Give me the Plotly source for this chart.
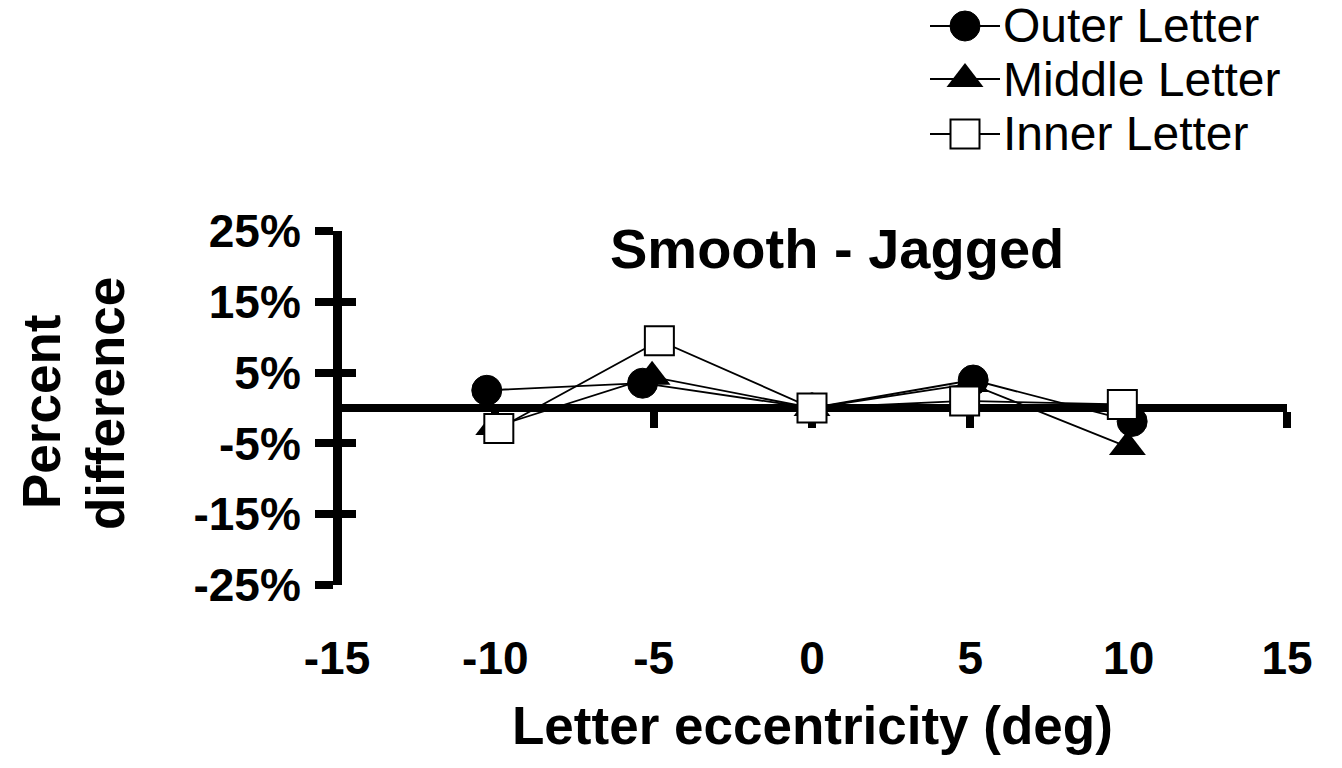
import plotly.graph_objects as go

# Letter eccentricity (deg) for each letter position, slightly offset per series
ecc_outer = [-10.27, -5.35, 0.0, 5.09, 10.11]
ecc_middle = [-10.05, -5.05, 0.0, 5.0, 9.96]
ecc_inner = [-9.89, -4.82, 0.0, 4.82, 9.8]

# Percent difference (Smooth - Jagged)
outer_pct = [2.5, 3.5, 0.0, 3.95, -1.9]
middle_pct = [-2.7, 4.4, 0.0, 3.4, -5.5]
inner_pct = [-2.9, 9.5, 0.0, 1.0, 0.5]

series_names = ["Outer Letter", "Middle Letter", "Inner Letter"]
x_ticks = [-15, -10, -5, 0, 5, 10, 15]
x_tick_text = ["-15", "-10", "-5", "0", "5", "10", "15"]
y_ticks = [-25, -15, -5, 5, 15, 25]
y_tick_text = ["-25%", "-15%", "-5%", "5%", "15%", "25%"]

W, H = 1342, 768
FONT = "Liberation Sans, Arial, sans-serif"

# plot area in pixels
PX0, PX1 = 337, 1287
PY_TOP, PY_BOT = 231, 585
xdom = [PX0 / W, PX1 / W]
ydom = [1 - PY_BOT / H, 1 - PY_TOP / H]
Y_LINE_W = 9


def px_x(p):
    return p / W


def px_y(p):
    return 1 - p / H


styles = [
    dict(symbol="circle", size=30, color="black", line=dict(color="black", width=1)),
    dict(symbol="triangle-up", size=32, color="black", line=dict(color="black", width=0)),
    dict(symbol="square", size=29, color="white", line=dict(color="black", width=2)),
]

fig = go.Figure()

for name, xs, ys, mk in zip(series_names,
                            [ecc_outer, ecc_middle, ecc_inner],
                            [outer_pct, middle_pct, inner_pct],
                            styles):
    fig.add_trace(go.Scatter(
        x=xs, y=ys, name=name, mode="lines+markers",
        line=dict(color="black", width=1.8),
        marker=mk, showlegend=False, xaxis="x", yaxis="y",
    ))

# Custom legend glyphs drawn on a hidden pixel-scaled axis pair
LEG_X0, LEG_X1 = 920, 1010
LEG_H = 160
line_x = [930, 1000]
mark_x = 965
row_y = [26, 79, 134]
for name, mk, ry in zip(series_names, styles, row_y):
    fig.add_trace(go.Scatter(
        x=line_x, y=[ry, ry], mode="lines",
        line=dict(color="black", width=2),
        showlegend=False, hoverinfo="skip", xaxis="x3", yaxis="y3",
    ))
    fig.add_trace(go.Scatter(
        x=[mark_x], y=[ry], mode="markers", marker=mk,
        showlegend=False, hoverinfo="skip", xaxis="x3", yaxis="y3",
    ))
    fig.add_annotation(
        x=px_x(1001), y=px_y(ry), xref="paper", yref="paper",
        xanchor="left", yanchor="middle", showarrow=False, text=name,
        font=dict(family=FONT, size=48, color="black"),
    )

# empty traces so the zero-line axis and the inner-tick axis get drawn
fig.add_trace(go.Scatter(x=[], y=[], xaxis="x2", yaxis="y", showlegend=False))
fig.add_trace(go.Scatter(x=[], y=[], xaxis="x", yaxis="y2", showlegend=False))

y_pos = PX0 / W

fig.update_layout(
    width=W, height=H,
    margin=dict(l=0, r=0, t=0, b=0, autoexpand=False),
    paper_bgcolor="white", plot_bgcolor="rgba(0,0,0,0)",
    showlegend=False,
    xaxis=dict(
        domain=xdom, range=[-15, 15], anchor="y", automargin=False,
        tickvals=x_ticks, ticktext=x_tick_text, ticks="", showline=False,
        showgrid=False, zeroline=False,
        tickfont=dict(family=FONT, size=46, color="black", weight="bold"),
        ticklabelstandoff=42,
    ),
    xaxis2=dict(
        overlaying="x", range=[-15, 15], anchor="free", automargin=False,
        position=(ydom[0] + ydom[1]) / 2,
        tickvals=x_ticks, ticks="outside", ticklen=16, tickwidth=8, tickcolor="black",
        showticklabels=False, showline=True, linewidth=8, linecolor="black",
        showgrid=False, zeroline=False, layer="below traces",
    ),
    yaxis=dict(
        domain=ydom, range=[-25, 25], anchor="free", position=y_pos,
        automargin=False,
        tickvals=y_ticks, ticktext=y_tick_text,
        ticks="outside", ticklen=18, tickwidth=8, tickcolor="black",
        showline=True, linewidth=Y_LINE_W, linecolor="black",
        showgrid=False, zeroline=False, ticklabelstandoff=5,
        tickfont=dict(family=FONT, size=46, color="black", weight="bold"),
    ),
    yaxis2=dict(
        overlaying="y", range=[-25, 25], anchor="free", position=y_pos,
        automargin=False,
        tickvals=y_ticks, ticks="inside", ticklen=18, tickwidth=8, tickcolor="black",
        showticklabels=False, showline=False, showgrid=False, zeroline=False,
    ),
    xaxis3=dict(domain=[LEG_X0 / W, LEG_X1 / W], range=[LEG_X0, LEG_X1],
                visible=False, anchor="y3"),
    yaxis3=dict(domain=[1 - LEG_H / H, 1], range=[LEG_H, 0],
                visible=False, anchor="x3"),
)

# chart title
fig.add_annotation(
    x=px_x(837), y=px_y(248), xref="paper", yref="paper",
    xanchor="center", yanchor="middle", showarrow=False, text="Smooth - Jagged",
    font=dict(family=FONT, size=56, color="black", weight="bold"),
)
# x axis title
fig.add_annotation(
    x=px_x(812), y=px_y(725), xref="paper", yref="paper",
    xanchor="center", yanchor="middle", showarrow=False,
    text="Letter eccentricity (deg)",
    font=dict(family=FONT, size=53, color="black", weight="bold"),
)
# y axis title, two lines
for txt, cx, cy in [("Percent", 41, 412), ("difference", 105, 404)]:
    fig.add_annotation(
        x=px_x(cx), y=px_y(cy), xref="paper", yref="paper",
        xanchor="center", yanchor="middle", showarrow=False, text=txt,
        textangle=-90,
        font=dict(family=FONT, size=53, color="black", weight="bold"),
    )

fig.write_html("out.html")
